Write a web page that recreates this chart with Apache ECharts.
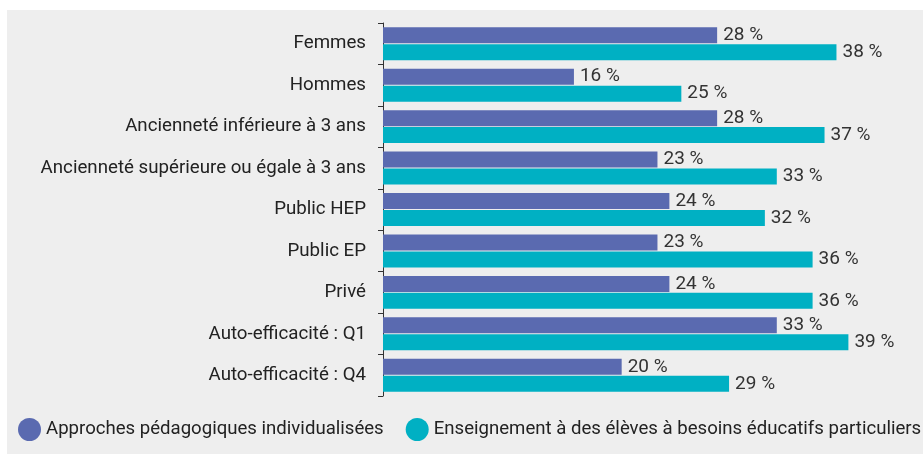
<!DOCTYPE html>
<html lang="fr">
<head>
  <meta charset="UTF-8">
  <script src="https://cdn.jsdelivr.net/npm/echarts@6/dist/echarts.min.js"></script>
  <title>Approches</title>
  <style>
    html, body { margin: 0; padding: 0; background: #ffffff; }
  </style>
</head>
<body>
  <div id="chart" style="width: 923px;height:454px;"></div>

  <script>
    // categories, top to bottom
    var categories = [
      'Femmes',
      'Hommes',
      'Ancienneté inférieure à 3 ans',
      'Ancienneté supérieure ou égale à 3 ans',
      'Public HEP',
      'Public EP',
      'Privé',
      'Auto-efficacité : Q1',
      'Auto-efficacité : Q4'
    ];

    var seriesNames = [
      'Approches pédagogiques individualisées',
      'Enseignement à des élèves à besoins éducatifs particuliers'
    ];

    // values in %, same order as categories
    var approchesValues = [28, 16, 28, 23, 24, 23, 24, 33, 20];
    var besoinsValues = [38, 25, 37, 33, 32, 36, 36, 39, 29];

    var colors = ['#5a6ab0', '#00b0c3'];

    var chart = echarts.init(document.getElementById('chart'));

    function makeSeries(name, values, color) {
      return {
        name: name,
        type: 'bar',
        data: values,
        barWidth: 16,
        barGap: '6%',
        itemStyle: { color: color },
        label: {
          show: true,
          position: 'right',
          distance: 6,
          formatter: '{c} %',
          fontFamily: 'Roboto',
          fontSize: 19,
          color: '#333333'
        }
      };
    }

    var option = {
      backgroundColor: '#ffffff',
      animation: false,
      graphic: [{
        type: 'rect',
        left: 7,
        top: 10,
        shape: { width: 916, height: 444 },
        style: { fill: '#eeeeee' },
        z: -10
      }],
      grid: {
        left: 383,
        right: 3,
        top: 23,
        height: 373
      },
      legend: {
        top: 418,
        left: 18,
        width: 1000,
        padding: 0,
        icon: 'circle',
        itemWidth: 23,
        itemHeight: 23,
        itemGap: 22,
        textStyle: { fontFamily: 'Roboto', fontSize: 18.6, color: '#222222' },
        data: seriesNames
      },
      xAxis: {
        type: 'value',
        min: 0,
        max: 45,
        show: false
      },
      yAxis: {
        type: 'category',
        inverse: true,
        data: categories,
        axisLine: { lineStyle: { color: '#333333', width: 1 } },
        axisTick: { show: true, length: 5, lineStyle: { color: '#333333' } },
        axisLabel: {
          margin: 17,
          fontFamily: 'Roboto',
          fontSize: 18.7,
          color: '#222222'
        }
      },
      series: [
        makeSeries(seriesNames[0], approchesValues, colors[0]),
        makeSeries(seriesNames[1], besoinsValues, colors[1])
      ]
    };

    chart.setOption(option);
  </script>
</body>
</html>
